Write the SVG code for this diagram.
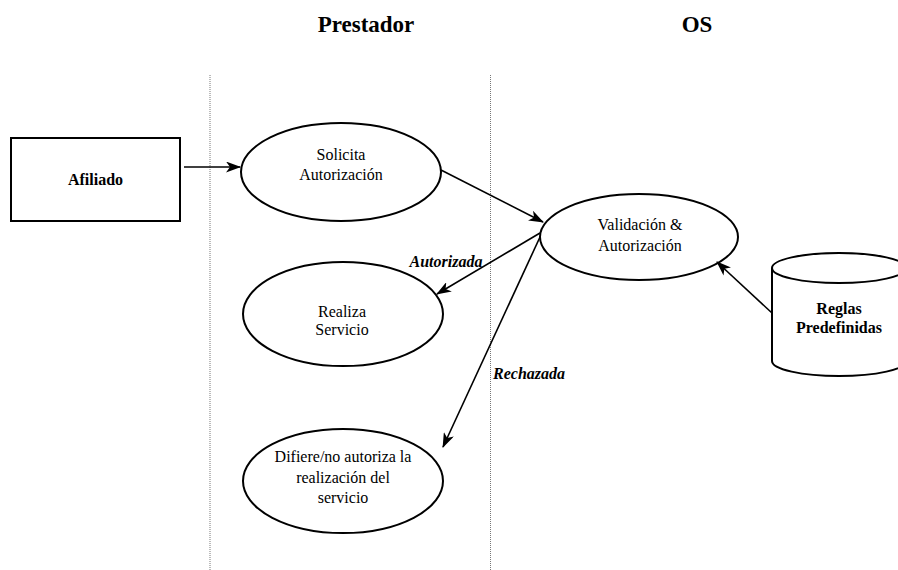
<svg xmlns="http://www.w3.org/2000/svg" width="898" height="570" viewBox="0 0 898 570">
  <defs>
    <marker id="arrow" viewBox="0 0 15 11" refX="14" refY="5.5" markerWidth="15" markerHeight="11" markerUnits="userSpaceOnUse" orient="auto">
      <path d="M0,0 L15,5.5 L0,11 L4,5.5 Z" fill="#000"/>
    </marker>
  </defs>
  <style>
    .shape { fill: #fff; stroke: #000; stroke-width: 2; }
    .lane { stroke: #777; stroke-width: 1; stroke-dasharray: 1 1; fill: none; }
    .edge { stroke: #000; stroke-width: 1.6; fill: none; marker-end: url(#arrow); }
    text { font-family: "Liberation Serif", "Times New Roman", serif; fill: #000; text-anchor: middle; }
    .label { font-size: 16px; }
    .bold { font-weight: bold; }
    .head { font-size: 23px; font-weight: bold; }
    .cond { font-size: 16px; font-weight: bold; font-style: italic; }
  </style>
  <rect width="898" height="570" fill="#fff"/>

  <!-- swimlane headings and separators -->
  <g id="lanes">
    <text class="head" x="366" y="32">Prestador</text>
    <text class="head" x="697" y="32">OS</text>
    <line class="lane" x1="210" y1="75" x2="210" y2="570"/>
    <line class="lane" x1="490.5" y1="75" x2="490.5" y2="570"/>
  </g>

  <g id="afiliado">
    <rect class="shape" x="11" y="138" width="169" height="83"/>
    <text class="label bold" x="95.5" y="185">Afiliado</text>
  </g>

  <g id="solicita">
    <ellipse class="shape" cx="341" cy="172" rx="100" ry="49"/>
    <text class="label" x="341" y="160">Solicita</text>
    <text class="label" x="341" y="180">Autorización</text>
  </g>

  <g id="validacion">
    <ellipse class="shape" cx="639" cy="237" rx="99" ry="43"/>
    <text class="label" x="640" y="230">Validación &amp;</text>
    <text class="label" x="640" y="251">Autorización</text>
  </g>

  <g id="realiza">
    <ellipse class="shape" cx="343" cy="314" rx="100" ry="52"/>
    <text class="label" x="342" y="317">Realiza</text>
    <text class="label" x="342" y="335">Servicio</text>
  </g>

  <g id="difiere">
    <ellipse class="shape" cx="343" cy="481" rx="100" ry="52"/>
    <text class="label" x="343" y="462">Difiere/no autoriza la</text>
    <text class="label" x="343" y="483">realización del</text>
    <text class="label" x="343" y="503">servicio</text>
  </g>

  <g id="reglas">
    <path class="shape" d="M772,268 L772,361 A67,15 0 0 0 906,361 L906,268"/>
    <ellipse class="shape" cx="839" cy="268" rx="67" ry="15"/>
    <text class="label bold" x="839" y="314">Reglas</text>
    <text class="label bold" x="839" y="333">Predefinidas</text>
  </g>

  <g id="connectors">
    <line class="edge" x1="184" y1="167" x2="240" y2="167"/>
    <line class="edge" x1="441" y1="170" x2="543" y2="222"/>
    <line class="edge" x1="540" y1="233" x2="437" y2="294"/>
    <line class="edge" x1="540" y1="237" x2="443" y2="447"/>
    <line class="edge" x1="772" y1="313" x2="717" y2="262"/>
    <text class="cond" x="446" y="267">Autorizada</text>
    <text class="cond" x="529" y="379">Rechazada</text>
  </g>
</svg>
